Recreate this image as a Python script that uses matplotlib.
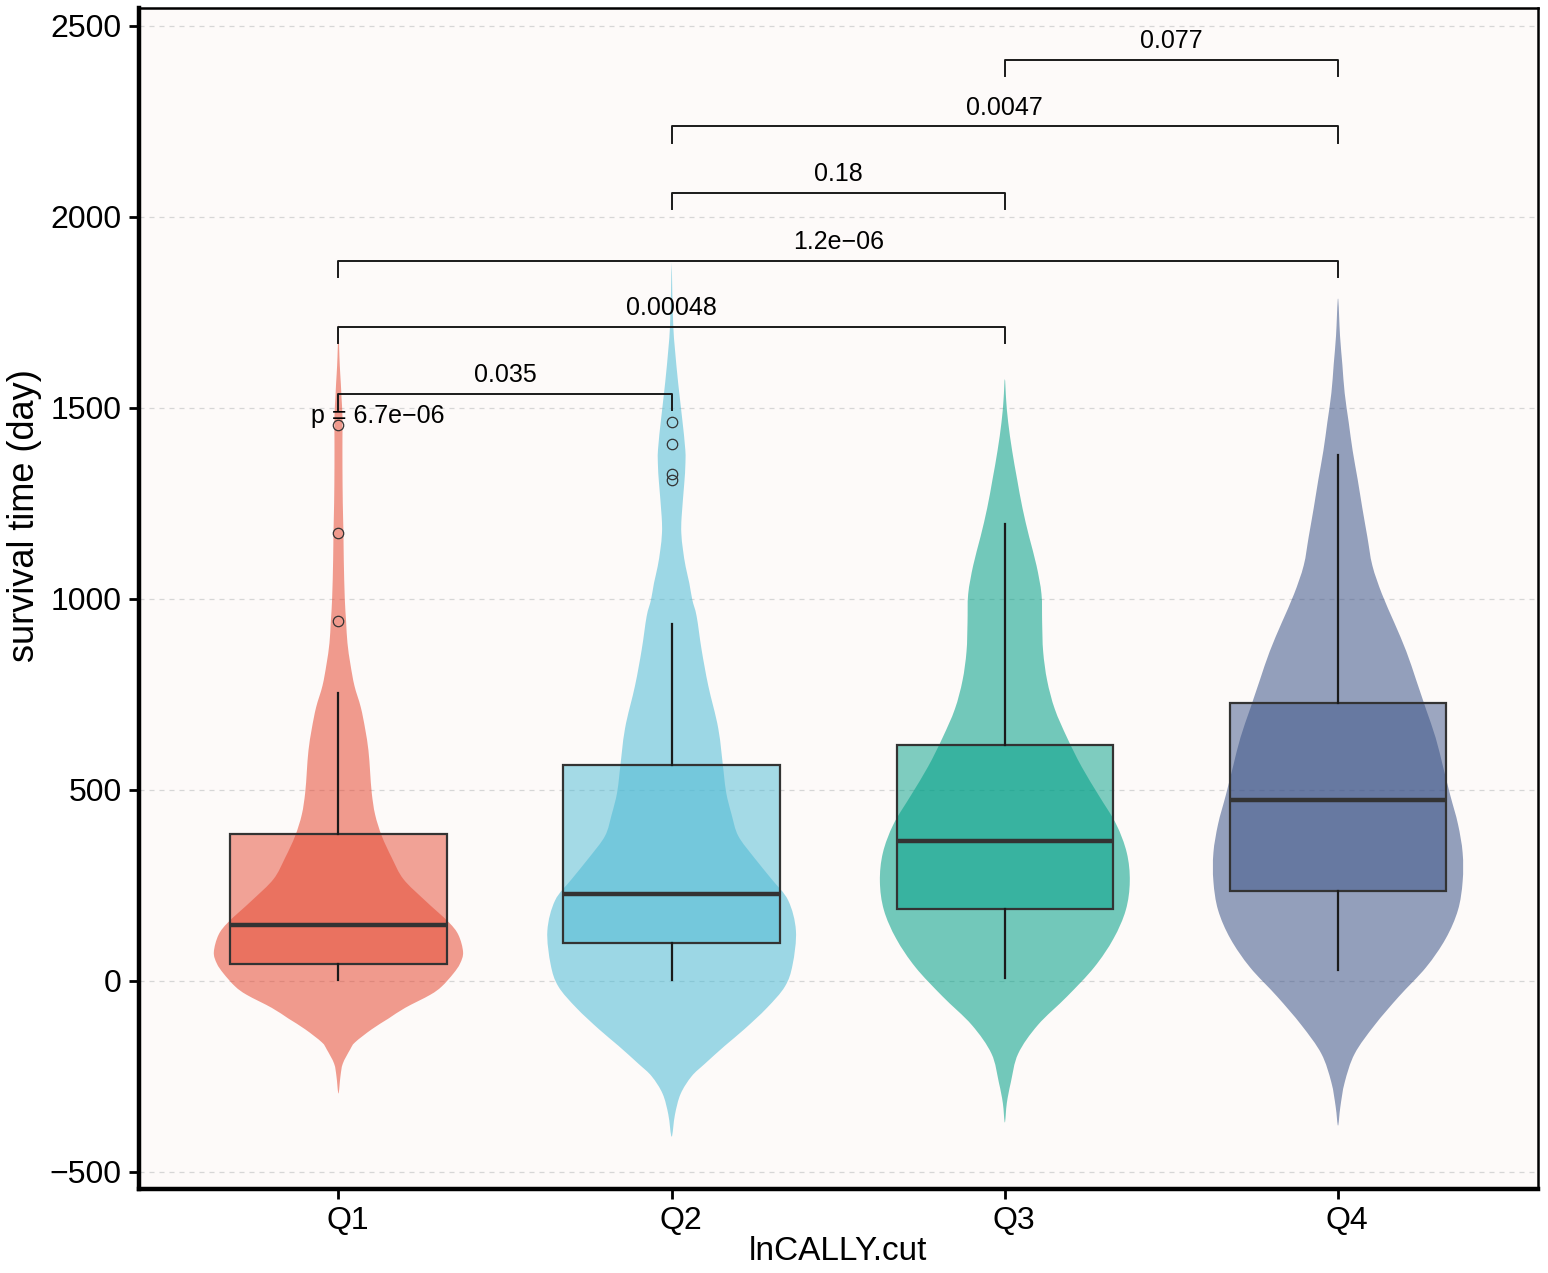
import numpy as np
import matplotlib
matplotlib.use('Agg')
import matplotlib.pyplot as plt
from matplotlib.path import Path
from matplotlib.patches import PathPatch
from matplotlib.transforms import ScaledTranslation

plt.rcParams['font.family'] = ['Liberation Sans', 'DejaVu Sans']

groups = ['Q1', 'Q2', 'Q3', 'Q4']
fill_colors = ['#E64B35', '#4DBBD5', '#00A087', '#3C5488']

# violin outlines: value level -> half width (x units)
q1_violin_y = [-295, -250, -217, -180, -161, -127, -99, -71, -37, -15, 19, 45, 75, 120, 154, 210, 266,
               322, 379, 435, 491, 547, 603, 660, 716, 772, 828, 884, 940, 1000, 1100, 1172, 1250,
               1346, 1420, 1477, 1530, 1565, 1610, 1660, 1720]
q1_violin_w = [0, 0.006, 0.013, 0.035, 0.05, 0.10, 0.15, 0.2, 0.275, 0.31, 0.345, 0.365, 0.374, 0.36,
               0.33, 0.26, 0.195, 0.16, 0.13, 0.11, 0.10, 0.095, 0.09, 0.08, 0.067, 0.048, 0.036, 0.027,
               0.023, 0.019, 0.016, 0.015, 0.013, 0.012, 0.012, 0.012, 0.009, 0.007, 0.004, 0.002, 0]

q2_violin_y = [-408, -350, -296, -250, -217, -170, -127, -71, -15, 42, 131, 210, 266, 322, 379, 435, 491,
               547, 660, 772, 866, 954, 997, 1041, 1084, 1128, 1172, 1215, 1303, 1346, 1390, 1476, 1565,
               1652, 1712, 1800, 1880]
q2_violin_w = [0, 0.01, 0.027, 0.06, 0.10, 0.16, 0.218, 0.286, 0.34, 0.363, 0.373, 0.35, 0.30, 0.248,
               0.20, 0.18, 0.164, 0.156, 0.14, 0.11, 0.09, 0.075, 0.062, 0.053, 0.042, 0.034, 0.029,
               0.030, 0.038, 0.041, 0.041, 0.031, 0.0195, 0.01, 0.005, 0.002, 0]

q3_violin_y = [-371, -320, -266, -191, -116, -41, 35, 110, 185, 260, 335, 410, 485, 561, 636, 711, 786,
               862, 937, 1012, 1087, 1162, 1237, 1312, 1387, 1462, 1520, 1575]
q3_violin_w = [0, 0.006, 0.018, 0.04, 0.099, 0.187, 0.268, 0.326, 0.363, 0.375, 0.366, 0.334, 0.282,
               0.23, 0.187, 0.15, 0.127, 0.115, 0.112, 0.11, 0.095, 0.073, 0.053, 0.037, 0.022, 0.01,
               0.004, 0]

q4_violin_y = [-379, -330, -266, -191, -116, -41, 35, 110, 185, 260, 335, 410, 485, 561, 636, 711, 786,
               862, 937, 1012, 1087, 1162, 1237, 1312, 1387, 1462, 1538, 1613, 1688, 1786]
q4_violin_w = [0, 0.007, 0.02, 0.05, 0.11, 0.183, 0.264, 0.323, 0.36, 0.374, 0.374, 0.36, 0.337, 0.315,
               0.293, 0.264, 0.235, 0.205, 0.169, 0.132, 0.103, 0.088, 0.073, 0.059, 0.044, 0.032,
               0.02, 0.013, 0.006, 0]

# box plot summaries
whisker_low = [3, 3, 7, 27]
box_q1 = [45, 98, 188, 235]
box_median = [147, 228, 365, 474]
box_q3 = [384, 565, 618, 727]
whisker_high = [753, 934, 1195, 1377]
outliers = [[942, 1173, 1455], [1310, 1326, 1405, 1462], [], []]

# pairwise comparisons
pairs = [(1, 2), (1, 3), (1, 4), (2, 3), (2, 4), (3, 4)]
pair_labels = ['0.035', '0.00048', '1.2e\u221206', '0.18', '0.0047', '0.077']
pair_heights = [1537, 1712, 1885, 2063, 2236, 2411]
global_label = 'p = 6.7e\u221206'

violins = [(q1_violin_y, q1_violin_w), (q2_violin_y, q2_violin_w),
           (q3_violin_y, q3_violin_w), (q4_violin_y, q4_violin_w)]


def smooth_outline(xc, vy, vw):
    # closed outline through the read points, drawn as a Catmull-Rom curve
    vy = np.array(vy, dtype=float)
    vw = np.array(vw, dtype=float)
    right = np.column_stack([xc + vw, vy])
    left = np.column_stack([xc - vw[::-1], vy[::-1]])[1:-1]
    pts = np.vstack([right, left])
    n = len(pts)
    verts = [pts[0]]
    codes = [Path.MOVETO]
    for i in range(n):
        p0, p1, p2, p3 = pts[i - 1], pts[i], pts[(i + 1) % n], pts[(i + 2) % n]
        verts += [p1 + (p2 - p0) / 6, p2 - (p3 - p1) / 6, p2]
        codes += [Path.CURVE4] * 3
    return Path(verts, codes)


fig = plt.figure(figsize=(15.48, 12.73), dpi=100)
ax = fig.add_axes([0.0895, 0.066, 0.904, 0.928])
ax.set_facecolor('#fdfaf9')

pos = np.arange(1, len(groups) + 1)

for i, (vy, vw) in enumerate(violins):
    patch = PathPatch(smooth_outline(pos[i], vy, vw), facecolor=fill_colors[i], alpha=0.55,
                      linewidth=0, zorder=2)
    ax.add_patch(patch)

stats = []
for i in range(len(groups)):
    stats.append({'whislo': whisker_low[i], 'q1': box_q1[i], 'med': box_median[i],
                  'q3': box_q3[i], 'whishi': whisker_high[i], 'fliers': outliers[i]})

bp = ax.bxp(stats, positions=pos, widths=0.65, patch_artist=True, showcaps=False,
            boxprops=dict(edgecolor='#333333', linewidth=1.6),
            medianprops=dict(color='#333333', linewidth=3.2, solid_capstyle='butt'),
            whiskerprops=dict(color='#1a1a1a', linewidth=1.6),
            flierprops=dict(marker='o', markerfacecolor='none', markeredgecolor='#333333',
                            markersize=7.5, markeredgewidth=0.9),
            zorder=3)
for patch, c in zip(bp['boxes'], fill_colors):
    patch.set_facecolor(matplotlib.colors.to_rgba(c, 0.5))

# comparison brackets
tick = 42
for (a, b), lab, h in zip(pairs, pair_labels, pair_heights):
    ax.plot([a, a, b, b], [h - tick, h, h, h - tick], color='#1a1a1a', linewidth=1.4, zorder=4)
    ax.text((a + b) / 2, h + 31, lab, ha='center', va='baseline', fontsize=18, zorder=5)

ax.text(0.918, 1461, global_label, ha='left', va='baseline', fontsize=18, zorder=5)

ax.set_xlim(0.4, 4.6)
ax.set_ylim(-545, 2547)
ax.set_xticks(pos)
ax.set_xticklabels(groups)
ax.set_yticks([-500, 0, 500, 1000, 1500, 2000, 2500])
ax.grid(axis='y', color='#d6d6d6', linestyle=(0, (4, 4)), linewidth=0.9, zorder=0)
ax.set_axisbelow(True)

ax.tick_params(axis='both', labelsize=23, length=7, width=2, color='black', pad=5)
shift = ScaledTranslation(0.09, 0, fig.dpi_scale_trans)
for lab in ax.get_xticklabels():
    lab.set_transform(lab.get_transform() + shift)

for side in ['left', 'bottom']:
    ax.spines[side].set_linewidth(3.2)
for side in ['top', 'right']:
    ax.spines[side].set_linewidth(1.8)

ax.set_xlabel('lnCALLY.cut', fontsize=24, va='center')
ax.xaxis.set_label_coords(0.5, -0.0533)
ax.set_ylabel('survival time (day)', fontsize=26, va='center')
ax.yaxis.set_label_coords(-0.0814, 0.570)

plt.savefig('out.png', dpi=100, facecolor='white')
